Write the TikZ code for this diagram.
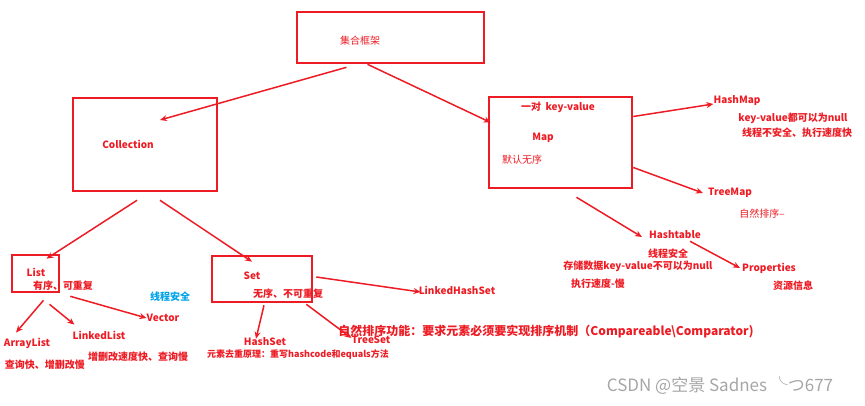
\documentclass[tikz,border=0pt]{standalone}
\usepackage{fontspec}
\setmainfont{Noto Sans CJK SC}
\usetikzlibrary{arrows.meta}
\definecolor{mred}{RGB}{237,28,36}
\definecolor{mblue}{RGB}{0,162,232}
\begin{document}
\begin{tikzpicture}[x=1pt, y=-1pt,
		box/.style={draw=mred, line width=2.6pt, inner sep=0pt},
		lbl/.style={text=mred, font=\bfseries\fontsize{10}{12}\selectfont, inner sep=0pt},
		note/.style={lbl, font=\fontsize{10}{12}\selectfont},
		arr/.style={draw=mred, line width=1.5pt, -{Stealth[length=7pt,width=6pt]}}]
		\useasboundingbox (0,0) rectangle (865,405);
		% boxes
		\node[box, minimum width=187pt, minimum height=51pt] (frame) at (390.5,37.5) {};
		\node[box, minimum width=144pt, minimum height=93pt] (coll) at (145,144.5) {};
		\node[box, minimum width=143pt, minimum height=91pt] (map) at (560.5,142.5) {};
		\node[box, minimum width=47pt, minimum height=37pt] (listbox) at (35.5,273.5) {};
		\node[box, minimum width=100pt, minimum height=46pt] (setbox) at (262,279) {};
		% texts
		\node[note] (frameText) at (360,41) {集合框架};
		\node[lbl] (collText) at (128,144) {Collection};
		\node[lbl] (pair) at (558,107) {一对\ \ key-value};
		\node[lbl] (mapText) at (543,138) {Map};
		\node[note] (unordered) at (522,160) {默认无序};
		\node[lbl] (hashmap) at (737,101) {HashMap};
		\node[lbl] (hashmapNull) at (793,118) {key-value都可以为null};
		\node[lbl] (hashmapFast) at (797,133) {线程不安全、执行速度快};
		\node[lbl] (treemap) at (730,193) {TreeMap};
		\node[note] (treemapSort) at (762,214) {自然排序--};
		\node[lbl] (hashtable) at (675,235) {Hashtable};
		\node[lbl] (tableSafe) at (668,254) {线程安全};
		\node[lbl] (tableNull) at (638,266) {存储数据key-value不可以为null};
		\node[lbl] (tableSlow) at (598,284) {执行速度-慢};
		\node[lbl] (props) at (769,268) {Properties};
		\node[lbl] (propsInfo) at (793,286) {资源信息};
		\node[lbl] (listText) at (36,272) {List};
		\node[lbl] (listOrdered) at (63,286) {有序、可重复};
		\node[lbl] (arraylist) at (27,343) {ArrayList};
		\node[lbl] (arraySpeed) at (45,365) {查询快、增删改慢};
		\node[lbl] (linkedlist) at (99,335) {LinkedList};
		\node[lbl] (linkedSpeed) at (138,357) {增删改速度快、查询慢};
		\node[lbl] (vector) at (163,318) {Vector};
		\node[lbl, text=mblue] (vectorSafe) at (170,297) {线程安全};
		\node[lbl] (setText) at (252,276) {Set};
		\node[lbl] (setOrdered) at (288,294) {无序、不可重复};
		\node[lbl] (lhs) at (457,290) {LinkedHashSet};
		\node[lbl] (treeset) at (371,340) {TreeSet};
		\node[lbl, font=\bfseries\fontsize{12}{14}\selectfont] (treesetSort) at (546,332) {自然排序功能：要求元素必须要实现排序机制（Compareable\textbackslash Comparator)};
		\node[lbl] (hashset) at (265,342) {HashSet};
		\node[lbl, font=\bfseries\fontsize{9}{11}\selectfont] (hashsetRule) at (298,355) {元素去重原理：重写hashcode和equals方法};
		\node[text=black!35, font=\fontsize{17}{19}\selectfont, inner sep=0pt] (mark) at (720,385) {CSDN @空景 Sadnes ╰つ677};
		% connectors
		\coordinate (collIn) at (160,120);
		\draw[arr] ([xshift=-44pt,yshift=-3pt]frame.south) -- (collIn);
		\draw[arr] ([xshift=-23pt]frame.south) -- ([xshift=3pt,yshift=20pt]map.west);
		\draw[arr] ([xshift=-8pt,yshift=-8pt]coll.south) -- ([xshift=11pt,yshift=-5pt]listbox.north);
		\draw[arr] ([xshift=15pt,yshift=-8pt]coll.south) -- ([xshift=-10pt,yshift=-7pt]setbox.north);
		\draw[arr] ([xshift=8pt,yshift=-7pt]listbox.south) -- ([xshift=-11pt,yshift=5pt]arraylist.north);
		\draw[arr] ([xshift=14pt,yshift=-11pt]listbox.south) -- ([xshift=2pt,yshift=6pt]linkedlist.north west);
		\draw[arr] ([xshift=10pt,yshift=-3pt]listbox.south east) -- (vector.west);
		\draw[arr] ([xshift=2pt,yshift=-2pt]setbox.south) -- ([xshift=-9pt,yshift=-1pt]hashset.north);
		\draw[arr] ([xshift=-7pt,yshift=-1pt]setbox.south east) -- ([yshift=2pt]treeset.west);
		\draw[arr] ([xshift=3pt,yshift=2pt]setbox.east) -- ([xshift=2pt,yshift=-2pt]lhs.west);
		\draw[arr] ([yshift=26pt]map.east) -- ([yshift=-3pt]hashmap.west);
		\draw[arr] ([yshift=-25pt]map.east) -- ([xshift=-5pt]treemap.west);
		\draw[arr] ([xshift=16pt,yshift=-8pt]map.south) -- ([xshift=-7pt,yshift=-2pt]hashtable.west);
		\draw[arr] ([xshift=15pt,yshift=-2pt]hashtable.south) -- ([xshift=-2pt]props.west);
	\end{tikzpicture}
\end{document}
